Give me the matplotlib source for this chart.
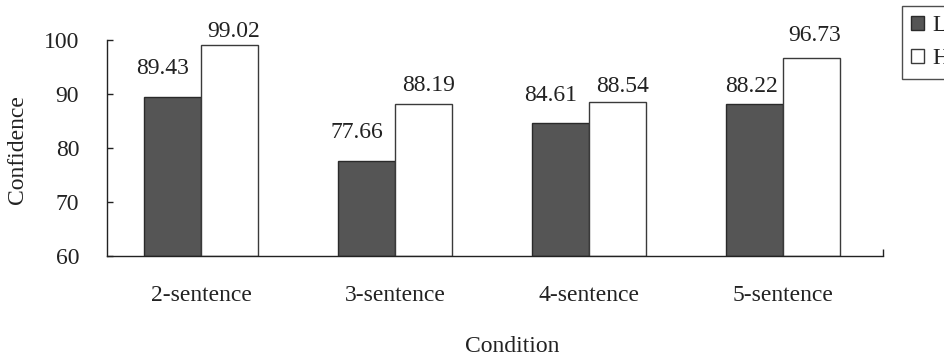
import matplotlib
matplotlib.use("Agg")
import matplotlib.pyplot as plt
import numpy as np

categories = ["2-sentence", "3-sentence", "4-sentence", "5-sentence"]
low_values = [89.43, 77.66, 84.61, 88.22]
high_values = [99.02, 88.19, 88.54, 96.73]
series_names = ["Low", "High"]
y_ticks = [60, 70, 80, 90, 100]

# label offsets (pixels) relative to bar top / bar center, mimicking manual placement
low_dy = [29, 28, 28, 17]
low_dx = [-10, -10, -10, -3]
high_dy = [14, 18, 15.5, 22]
high_dx = [4, 5, 5, 3]

plt.rcParams['font.family'] = ['Liberation Serif', 'DejaVu Serif']
FS = 17
TXT = '#222222'

fig = plt.figure(figsize=(9.44, 3.63), dpi=100)
ax = fig.add_axes([107/944, 1-256/363, (883-107)/944, (256-40)/363])

x = np.arange(len(categories))
w = 0.294
b1 = ax.bar(x, np.array(low_values) - 60, width=-w, bottom=60, align='edge',
            color='#555555', edgecolor='#2a2a2a', linewidth=1.0, label=series_names[0])
b2 = ax.bar(x, np.array(high_values) - 60, width=w, bottom=60, align='edge',
            color='white', edgecolor='#3a3a3a', linewidth=1.0, label=series_names[1])

px = 72 / fig.dpi
for i, v in enumerate(low_values):
    ax.annotate(f"{v:.2f}", (x[i] - w/2, v), xytext=(low_dx[i]*px, low_dy[i]*px),
                textcoords='offset points', ha='center', va='center', fontsize=FS, color=TXT)
for i, v in enumerate(high_values):
    ax.annotate(f"{v:.2f}", (x[i] + w/2, v), xytext=(high_dx[i]*px, high_dy[i]*px),
                textcoords='offset points', ha='center', va='center', fontsize=FS, color=TXT)

ax.set_ylim(60, 100)
ax.set_xlim(-0.485, 3.515)
ax.set_yticks(y_ticks)
ax.set_yticklabels([str(t) for t in y_ticks], fontsize=FS, color=TXT)
ax.tick_params(axis='y', direction='in', length=4, width=1, pad=20, colors='#222222', labelcolor=TXT)
ax.set_xticks(x)
ax.set_xticklabels(categories, fontsize=FS, color=TXT)
ax.tick_params(axis='x', length=0, pad=21, labelcolor=TXT)
ax.set_xticks([3.515], minor=True)
ax.tick_params(axis='x', which='minor', direction='in', length=5, width=1, color='#222222')

for s in ['top', 'right']:
    ax.spines[s].set_visible(False)
for s in ['left', 'bottom']:
    ax.spines[s].set_color('#222222')
    ax.spines[s].set_linewidth(1.0)

fig.text(18/944, 1-150/363, "Confidence", rotation=90, ha='center', va='center', fontsize=FS, color=TXT)
fig.text(512/944, 1-347/363, "Condition", ha='center', va='center', fontsize=FS, color=TXT)

leg = fig.legend(handles=[b1, b2], labels=series_names, loc='upper left',
                 bbox_to_anchor=(902/944, 1-6/363), borderaxespad=0, fontsize=FS,
                 frameon=True, fancybox=False, shadow=False, handlelength=0.55,
                 handleheight=0.55, handletextpad=0.35, labelspacing=0.5, borderpad=0.4)
leg.get_frame().set_edgecolor('#222222')
leg.get_frame().set_linewidth(1.0)
for t in leg.get_texts():
    t.set_color(TXT)

fig.savefig("out.png", dpi=100)
